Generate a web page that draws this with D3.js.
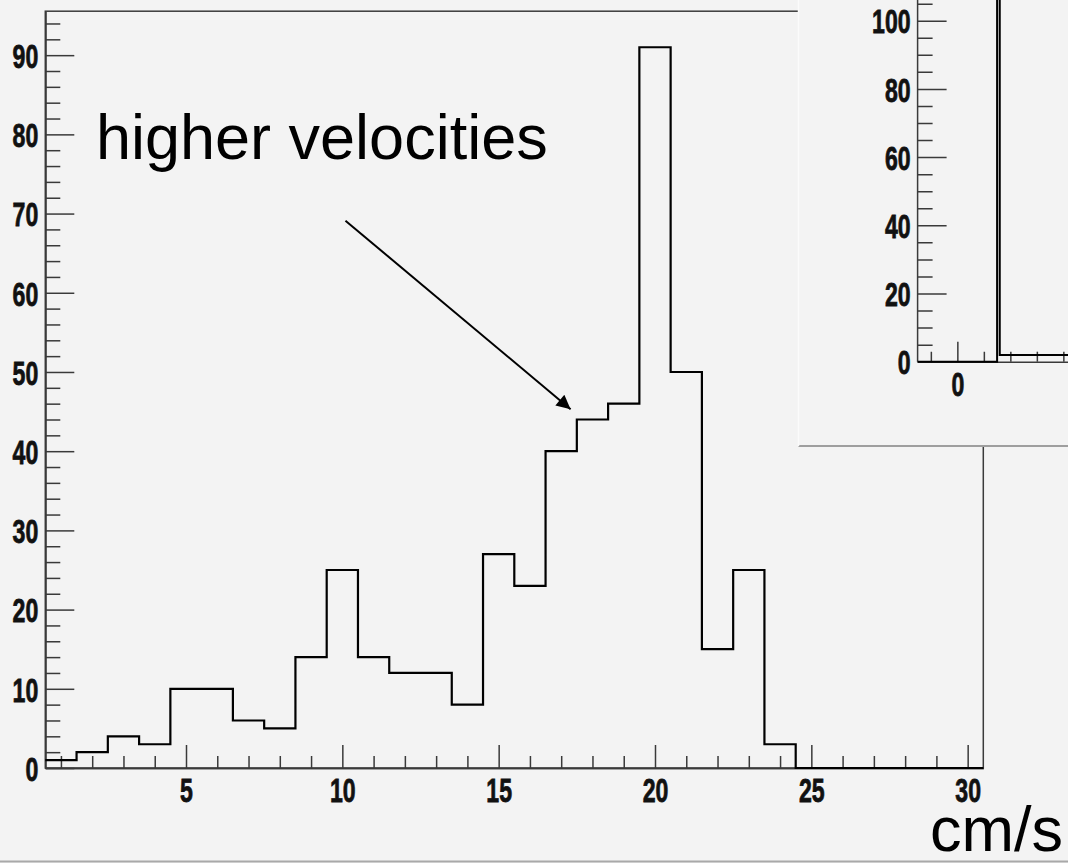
<!DOCTYPE html>
<html>
<head>
<meta charset="utf-8">
<script src="https://cdn.jsdelivr.net/npm/d3@7"></script>
<style>
  html, body { margin: 0; padding: 0; background: #f3f3f3; }
  svg { display: block; }
  .tick-label { font-family: "Liberation Sans", Arial, sans-serif; font-weight: bold; font-size: 34px; fill: #111; stroke: #111; stroke-width: 0.8px; }
  .big-text { font-family: "Liberation Sans", Arial, sans-serif; font-size: 63px; fill: #000; }
</style>
</head>
<body>
<svg id="chart" width="1068" height="863"></svg>
<script>
// Velocity histogram: unit-width bins centred on 1..30 cm/s
const binCenters = [1,2,3,4,5,6,7,8,9,10,11,12,13,14,15,16,17,18,19,20,21,22,23,24,25,26,27,28,29,30];
const counts     = [1,2,4,3,10,10,6,5,14,25,14,12,12,8,27,23,40,44,46,91,50,15,25,3,0,0,0,0,0,0];
const xMajorTicks = [5,10,15,20,25,30];
const yMajorTicks = [0,10,20,30,40,50,60,70,80,90];

// Inset histogram (full range view): bin edges and counts
const insetEdges  = [-1.5, 1.5, 1.6, 6];
const insetCounts = [0, 140, 2];
const insetXMajor = [0];
const insetYMajor = [0,20,40,60,80,100];

// Annotation
const noteText = "higher velocities";
const notePos = [2.12, 76.9];
const arrowFrom = [10.1, 69.1];
const arrowTo = [17.3, 45.3];
const unitLabel = "cm/s";

const svg = d3.select("#chart");
const W = 1068, H = 863;
const axisColor = "#3a3a3a";
const bg = "#f3f3f3";

svg.append("rect").attr("width", W).attr("height", H).attr("fill", bg);
// bottom edge of the canvas
svg.append("line").attr("x1", 0).attr("x2", W).attr("y1", 861.5).attr("y2", 861.5)
  .attr("stroke", "#a9a9a9").attr("stroke-width", 2);

// ---------- main frame ----------
const xMin = 0.5, xMax = 30.5;
const yMax = d3.max(counts) * 1.05;
const x = d3.scaleLinear().domain([xMin, xMax]).range([45.3, 983.3]);
const y = d3.scaleLinear().domain([0, yMax]).range([768, 11.2]);

const main = svg.append("g");

main.append("rect")
  .attr("x", x(xMin)).attr("y", y(yMax))
  .attr("width", x(xMax) - x(xMin)).attr("height", y(0) - y(yMax))
  .attr("fill", "none").attr("stroke", axisColor).attr("stroke-width", 1.5);

function styleAxis(g) {
  g.select(".domain").attr("stroke", axisColor).attr("stroke-width", 1.5);
  g.selectAll(".tick line").attr("stroke", axisColor).attr("stroke-width", 1.5);
}

// x axis: minor ticks every unit, majors every 5
const xMinor = d3.range(1, 31).filter(v => !xMajorTicks.includes(v));
main.append("g").attr("transform", `translate(0,${y(0)})`)
  .call(d3.axisBottom(x).tickValues(xMinor).tickSizeInner(-12).tickSizeOuter(0).tickFormat(""))
  .call(styleAxis);
const gx = main.append("g").attr("transform", `translate(0,${y(0)})`)
  .call(d3.axisBottom(x).tickValues(xMajorTicks).tickSizeInner(-23).tickSizeOuter(0).tickFormat(d3.format("d")))
  .call(styleAxis);
gx.selectAll(".tick text")
  .attr("class", "tick-label").attr("font-size", null).attr("font-family", null).attr("fill", null)
  .attr("y", 0).attr("dy", "0.71em")
  .attr("transform", "translate(0,10) scale(0.68,1)");

// y axis: minor every 2, majors every 10
const yMinor = d3.range(0, 96, 2).filter(v => v % 10 !== 0);
main.append("g").attr("transform", `translate(${x(xMin)},0)`)
  .call(d3.axisLeft(y).tickValues(yMinor).tickSizeInner(-15).tickSizeOuter(0).tickFormat(""))
  .call(styleAxis);
const gy = main.append("g").attr("transform", `translate(${x(xMin)},0)`)
  .call(d3.axisLeft(y).tickValues(yMajorTicks).tickSizeInner(-29).tickSizeOuter(0).tickFormat(d3.format("d")))
  .call(styleAxis);
gy.selectAll(".tick text")
  .attr("class", "tick-label").attr("font-size", null).attr("font-family", null).attr("fill", null)
  .attr("x", 0).attr("dy", "0.36em")
  .attr("transform", "translate(-7,0) scale(0.68,1)");

// histogram outline
const edges = binCenters.map(c => c - 0.5).concat([binCenters[binCenters.length - 1] + 0.5]);
const stepPts = edges.map((e, i) => [e, counts[Math.min(i, counts.length - 1)]]);
main.append("path")
  .datum(stepPts)
  .attr("d", d3.line().x(d => x(d[0])).y(d => y(d[1])).curve(d3.curveStepAfter))
  .attr("fill", "none").attr("stroke", "#000").attr("stroke-width", 2.2);

// annotation
svg.append("defs").append("marker")
  .attr("id", "arrowhead").attr("viewBox", "0 0 10 10")
  .attr("refX", 10).attr("refY", 5)
  .attr("markerWidth", 17).attr("markerHeight", 14)
  .attr("markerUnits", "userSpaceOnUse")
  .attr("orient", "auto")
  .append("path").attr("d", "M0,0 L10,5 L0,10 Z").attr("fill", "#000");

main.append("line")
  .attr("x1", x(arrowFrom[0])).attr("y1", y(arrowFrom[1]))
  .attr("x2", x(arrowTo[0])).attr("y2", y(arrowTo[1]))
  .attr("stroke", "#000").attr("stroke-width", 2)
  .attr("marker-end", "url(#arrowhead)");

main.append("text").attr("class", "big-text")
  .attr("x", x(notePos[0])).attr("y", y(notePos[1]))
  .text(noteText);

svg.append("text").attr("class", "big-text")
  .attr("x", 1063).attr("y", 851).attr("text-anchor", "end").attr("font-size", 61)
  .text(unitLabel);

// ---------- inset panel ----------
const inset = svg.append("g");
const panel = { x0: 798.5, y0: 0, x1: W, y1: 446 };
inset.append("clipPath").attr("id", "insetClip")
  .append("rect").attr("x", panel.x0).attr("y", panel.y0)
  .attr("width", panel.x1 - panel.x0).attr("height", panel.y1 - panel.y0);
inset.append("rect")
  .attr("x", panel.x0).attr("y", panel.y0)
  .attr("width", panel.x1 - panel.x0).attr("height", panel.y1 - panel.y0)
  .attr("fill", bg);
inset.append("line").attr("x1", panel.x0).attr("x2", panel.x1)
  .attr("y1", panel.y1).attr("y2", panel.y1)
  .attr("stroke", "#9e9e9e").attr("stroke-width", 2);
inset.append("line").attr("x1", panel.x0).attr("x2", panel.x0)
  .attr("y1", panel.y0).attr("y2", panel.y1)
  .attr("stroke", "#fbfbfb").attr("stroke-width", 1.5);

const ic = inset.append("g").attr("clip-path", "url(#insetClip)");
const ix = d3.scaleLinear().domain([-1.5, 6]).range([917.6, 917.6 + 7.5 * 26.5]);
const iy = d3.scaleLinear().domain([0, 100]).range([361.7, 20.7]);

const ixMinor = d3.range(-1, 7).filter(v => !insetXMajor.includes(v));
ic.append("g").attr("transform", `translate(0,${iy(0)})`)
  .call(d3.axisBottom(ix).tickValues(ixMinor).tickSizeInner(-10).tickSizeOuter(0).tickFormat(""))
  .call(styleAxis);
const igx = ic.append("g").attr("transform", `translate(0,${iy(0)})`)
  .call(d3.axisBottom(ix).tickValues(insetXMajor).tickSizeInner(-20).tickSizeOuter(0).tickFormat(d3.format("d")))
  .call(styleAxis);
igx.select(".domain").remove();
igx.selectAll(".tick text")
  .attr("class", "tick-label").attr("font-size", null).attr("font-family", null).attr("fill", null)
  .attr("y", 0).attr("dy", "0.71em")
  .attr("transform", "translate(0,10) scale(0.68,1)");

const iyMinor = d3.range(0, 110, 5).filter(v => v % 20 !== 0);
ic.append("g").attr("transform", `translate(${ix(-1.5)},0)`)
  .call(d3.axisLeft(iy).tickValues(iyMinor).tickSizeInner(-15).tickSizeOuter(0).tickFormat(""))
  .call(g => g.select(".domain").attr("d", `M0,${iy(0)}V-5`))
  .call(styleAxis);
const igy = ic.append("g").attr("transform", `translate(${ix(-1.5)},0)`)
  .call(d3.axisLeft(iy).tickValues(insetYMajor).tickSizeInner(-29).tickSizeOuter(0).tickFormat(d3.format("d")))
  .call(styleAxis);
igy.select(".domain").remove();
igy.selectAll(".tick text")
  .attr("class", "tick-label").attr("font-size", null).attr("font-family", null).attr("fill", null)
  .attr("x", 0).attr("dy", "0.36em")
  .attr("transform", "translate(-7,0) scale(0.68,1)");

const insetPts = insetEdges.map((e, i) => [e, insetCounts[Math.min(i, insetCounts.length - 1)]]);
ic.append("path")
  .datum(insetPts)
  .attr("d", d3.line().x(d => ix(d[0])).y(d => iy(d[1])).curve(d3.curveStepAfter))
  .attr("fill", "none").attr("stroke", "#000").attr("stroke-width", 2);
</script>
</body>
</html>
